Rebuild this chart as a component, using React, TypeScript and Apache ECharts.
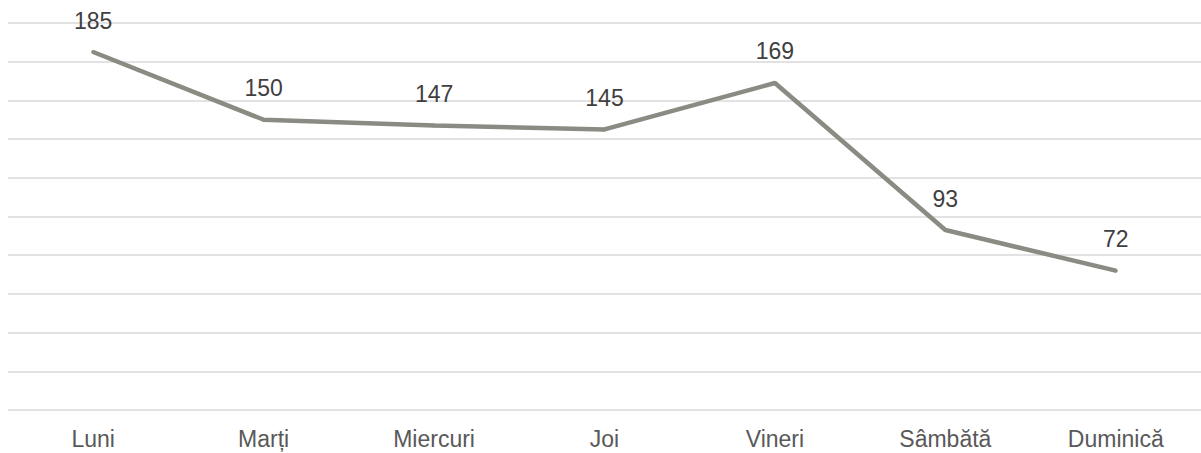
import React, { useEffect, useRef } from "react";
import * as echarts from "echarts";

const categories = ["Luni", "Marți", "Miercuri", "Joi", "Vineri", "Sâmbătă", "Duminică"];
const values = [185, 150, 147, 145, 169, 93, 72];
const yMin = 0;
const yMax = 200;
const yInterval = 20;

export default function App() {
  const ref = useRef<HTMLDivElement>(null);
  useEffect(() => {
    document.body.style.margin = "0";
    if (!ref.current) return;
    const chart = echarts.init(ref.current, undefined, { renderer: "svg" });
    chart.setOption({
      animation: false,
      backgroundColor: "#ffffff",
      textStyle: { fontFamily: "Liberation Sans, Arial, sans-serif" },
      grid: { left: 8, right: 0, top: 23, bottom: 43, containLabel: false },
      xAxis: {
        type: "category",
        data: categories,
        boundaryGap: true,
        axisLine: { show: false },
        axisTick: { show: false },
        axisLabel: { color: "#595959", fontSize: 23, margin: 17, fontFamily: "Liberation Sans, Arial, sans-serif" },
      },
      yAxis: {
        type: "value",
        min: yMin,
        max: yMax,
        interval: yInterval,
        axisLabel: { show: false },
        axisLine: { show: false },
        axisTick: { show: false },
        splitLine: { lineStyle: { color: "#d9d9d9", width: 1.5 } },
      },
      series: [
        {
          type: "line",
          data: values,
          symbol: "circle",
          symbolSize: 4,
          itemStyle: { color: "#8b8b84" },
          lineStyle: { color: "#8b8b84", width: 4.5 },
          label: {
            show: true,
            position: "top",
            distance: 18,
            color: "#404040",
            fontSize: 23,
            fontFamily: "Liberation Sans, Arial, sans-serif",
          },
        },
      ],
    });
    return () => chart.dispose();
  }, []);
  return <div ref={ref} style={{ width: 1201, height: 453 }} />;
}
